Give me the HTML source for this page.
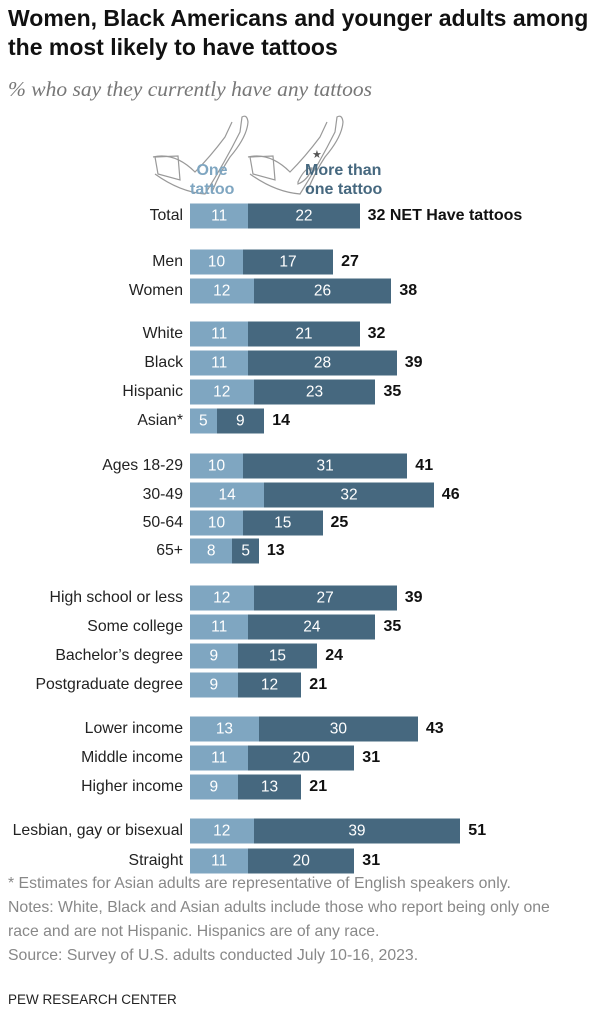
<!DOCTYPE html>
<html><head><meta charset="utf-8"><style>
body{margin:0;width:602px;height:1024px;background:#fff;font-family:"Liberation Sans",sans-serif;position:relative;overflow:hidden}
.t{position:absolute;left:8px;font-weight:bold;font-size:23px;line-height:29px;color:#111;top:4px;white-space:nowrap}
.s{position:absolute;left:8px;top:77px;font-family:"Liberation Serif",serif;font-style:italic;font-size:21.5px;color:#777;white-space:nowrap}
.lab{position:absolute;right:419px;font-size:15.8px;color:#222;white-space:nowrap;transform:translateY(-50%)}
.bar{position:absolute;height:25px;transform:translateY(-50%);color:#fff;font-size:15.5px;text-align:center;line-height:25px}
.l{background:#7fa6c1}.d{background:#46687f}
.n{position:absolute;font-weight:bold;font-size:16px;color:#111;transform:translateY(-50%);white-space:nowrap}
.f{position:absolute;left:8px;font-size:15.8px;color:#888;line-height:24px;white-space:nowrap}
</style></head><body>
<div class="t">Women, Black Americans and younger adults among<br>the most likely to have tattoos</div>
<div class="s">% who say they currently have any tattoos</div>
<svg style="position:absolute;left:150px;top:112px" width="230" height="90" fill="none" stroke="#999" stroke-width="1.2">
<path d="M5 62 Q30 80 55 82 Q75 50 90 20 L92 5 Q97 2 98 10 Q97 25 80 45 Q70 60 62 80"/>
<path d="M3 45 Q25 40 45 60 Q60 45 75 25 L82 10"/>
<path d="M5 45 L28 44 L30 68 L8 62 Z"/>
<path d="M100 62 Q125 80 150 82 Q170 50 185 20 L187 5 Q192 2 193 10 Q192 25 175 45 Q165 60 157 80"/>
<path d="M98 45 Q120 40 140 60 Q155 45 170 25 L177 10"/>
<path d="M100 45 L123 44 L125 68 L103 62 Z"/>
<path d="M148 70 Q155 55 162 56 Q158 68 148 72 Z"/>
<text x="162" y="46" fill="#555" stroke="none" font-size="11">★</text>
</svg>
<div style="position:absolute;left:190px;top:161px;width:44px;font-weight:bold;font-size:16px;line-height:19px;color:#7fa6c1;text-align:center">One<br>tattoo</div>
<div style="position:absolute;left:305px;top:161px;font-weight:bold;font-size:16px;line-height:19px;color:#46687f">More than<br>one tattoo</div>
<div id="c"></div>
<div class="f" style="top:872px">* Estimates for Asian adults are representative of English speakers only.<br>Notes: White, Black and Asian adults include those who report being only one<br>race and are not Hispanic. Hispanics are of any race.<br>Source: Survey of U.S. adults conducted July 10-16, 2023.</div>
<div style="position:absolute;left:8px;top:992px;font-size:13.5px;color:#222">PEW RESEARCH CENTER</div>
<script>
var d=[["Total",216,11,22,32],["Men",262,10,17,27],["Women",291,12,26,38],["White",334,11,21,32],["Black",363,11,28,39],["Hispanic",392,12,23,35],["Asian*",421,5,9,14],["Ages 18-29",466,10,31,41],["30-49",495,14,32,46],["50-64",523,10,15,25],["65+",551,8,5,13],["High school or less",598,12,27,39],["Some college",627,11,24,35],["Bachelor’s degree",656,9,15,24],["Postgraduate degree",685,9,12,21],["Lower income",729,13,30,43],["Middle income",758,11,20,31],["Higher income",787,9,13,21],["Lesbian, gay or bisexual",831,12,39,51],["Straight",861,11,20,31]];
var k=5.3,x0=190,h="";
d.forEach(function(r){var a=r[2]*k,b=r[4]*k-a;
h+='<div class="lab" style="top:'+r[1]+'px">'+r[0]+'</div>';
h+='<div class="bar l" style="top:'+r[1]+'px;left:'+x0+'px;width:'+a+'px">'+r[2]+'</div>';
h+='<div class="bar d" style="top:'+r[1]+'px;left:'+(x0+a)+'px;width:'+b+'px">'+r[3]+'</div>';
h+='<div class="n" style="top:'+r[1]+'px;left:'+(x0+r[4]*k+8)+'px">'+r[4]+(r[0]=="Total"?" NET Have tattoos":"")+'</div>';});
document.getElementById("c").innerHTML=h;
</script>
</body></html>
